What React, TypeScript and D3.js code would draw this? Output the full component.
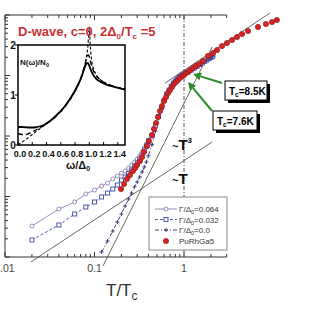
import React from 'react';
import * as d3 from 'd3';

// ---------- main panel data (T/Tc, 1/T1 normalised, log-log) ----------
const gridLow = [0.02, 0.04, 0.06, 0.08, 0.10, 0.12, 0.14, 0.16, 0.18, 0.20, 0.22, 0.24, 0.26, 0.28, 0.30, 0.32, 0.34, 0.36, 0.38, 0.40];
const gridHigh = [0.44, 0.48, 0.52, 0.56, 0.60, 0.64, 0.68, 0.72, 0.76, 0.80, 0.84, 0.88, 0.92, 0.96, 1.00];
const gridNormal = [1.1, 1.2, 1.3, 1.4, 1.5, 1.6, 1.7, 1.8, 1.9, 2.0, 2.1];

const g064Low = [0.00325, 0.00621, 0.00811, 0.0110, 0.0128, 0.0149, 0.0167, 0.0195, 0.0218, 0.0244, 0.0264, 0.0296, 0.0332, 0.0372, 0.0417, 0.0467, 0.0545, 0.0634, 0.0738, 0.0859];
const g032Low = [0.00191, 0.00338, 0.00514, 0.00670, 0.00811, 0.00982, 0.0114, 0.0133, 0.0155, 0.0187, 0.0210, 0.0240, 0.0274, 0.0313, 0.0358, 0.0417, 0.0485, 0.0587, 0.0684, 0.0826];
const g0Low = [null, null, null, null, null, 0.00121, 0.00184, 0.00269, 0.00379, 0.00514, 0.00697, 0.00909, 0.0114, 0.0144, 0.0174, 0.0210, 0.0254, 0.0308, 0.0372, 0.0470];

const g064High = [0.104, 0.150, 0.212, 0.298, 0.392, 0.492, 0.575, 0.668, 0.750, 0.812, 0.875, 0.928, 0.982, 1.02, 1.06];
const g032High = [0.100, 0.147, 0.210, 0.296, 0.390, 0.490, 0.572, 0.666, 0.748, 0.810, 0.873, 0.926, 0.980, 1.02, 1.06];
const g0High = [0.072, 0.120, 0.195, 0.288, 0.385, 0.485, 0.570, 0.664, 0.746, 0.808, 0.872, 0.925, 0.979, 1.02, 1.06];
const normalState = [1.14, 1.23, 1.33, 1.42, 1.52, 1.61, 1.71, 1.80, 1.90, 1.99, 2.08];

const rhX = [0.198, 0.214, 0.231, 0.249, 0.269, 0.284, 0.299, 0.322, 0.340, 0.357, 0.387, 0.406, 0.439, 0.462, 0.487, 0.512, 0.540, 0.568, 0.598, 0.630, 0.663, 0.698, 0.735, 0.773, 0.814, 0.857, 0.902, 0.951, 1.0, 1.053, 1.108, 1.167, 1.26, 1.362, 1.471, 1.63, 1.85, 2.11, 2.34, 2.66, 3.02, 3.44, 3.91, 4.45, 5.19, 6.71, 8.24, 9.62, 10.9];
const rhY = [0.0133, 0.0161, 0.0195, 0.0226, 0.0264, 0.0296, 0.0332, 0.0386, 0.0450, 0.0545, 0.0684, 0.0826, 0.104, 0.131, 0.164, 0.206, 0.259, 0.313, 0.379, 0.441, 0.514, 0.575, 0.646, 0.724, 0.782, 0.843, 0.910, 0.982, 1.02, 1.10, 1.14, 1.23, 1.33, 1.44, 1.55, 1.74, 2.10, 2.35, 2.64, 3.07, 3.44, 3.86, 4.33, 4.85, 5.44, 6.34, 7.10, 7.66, 8.27];

// power-law guide lines (endpoints)
const guideTlowX = [0.0195, 2.06];
const guideTlowY = [0.00083, 0.0796];
const guideT3X = [0.1245, 2.06];
const guideT3Y = [0.00071, 2.96];
const guideThighX = [0.614, 9.14];
const guideThighY = [0.751, 10.8];

// ---------- inset data: N(w)/N0 vs w/Delta0 ----------
const inW064 = [0.00, 0.05, 0.10, 0.15, 0.20, 0.25, 0.30, 0.35, 0.40, 0.45, 0.50, 0.55, 0.60, 0.65, 0.70, 0.75, 0.80, 0.85, 0.90, 0.93, 0.96, 0.98, 1.00, 1.03, 1.06, 1.10, 1.15, 1.20, 1.30, 1.40, 1.50];
const inN064 = [0.36, 0.36, 0.355, 0.35, 0.35, 0.355, 0.37, 0.39, 0.43, 0.48, 0.54, 0.61, 0.68, 0.76, 0.86, 0.97, 1.09, 1.23, 1.40, 1.53, 1.63, 1.64, 1.58, 1.47, 1.39, 1.32, 1.27, 1.23, 1.18, 1.14, 1.11];
const inW032 = [0.00, 0.05, 0.10, 0.15, 0.20, 0.25, 0.30, 0.35, 0.40, 0.50, 0.60, 0.70, 0.80, 0.85, 0.90, 0.94, 0.97, 0.99, 1.01, 1.04, 1.08, 1.15, 1.25, 1.35, 1.50];
const inN032 = [0.23, 0.21, 0.21, 0.23, 0.26, 0.30, 0.34, 0.38, 0.43, 0.53, 0.67, 0.85, 1.08, 1.23, 1.42, 1.62, 1.78, 1.80, 1.70, 1.55, 1.42, 1.31, 1.22, 1.17, 1.12];
const inW0 = [0.00, 0.10, 0.20, 0.30, 0.40, 0.50, 0.60, 0.70, 0.80, 0.90, 0.95, 0.98, 1.00, 1.01, 1.03, 1.06, 1.10, 1.20, 1.30, 1.40, 1.50];
const inN0 = [0.00, 0.10, 0.21, 0.32, 0.43, 0.55, 0.69, 0.86, 1.08, 1.40, 1.68, 1.98, 2.36, 2.05, 1.72, 1.52, 1.40, 1.26, 1.19, 1.15, 1.12];
const insetXTicks = [0, 0.2, 0.4, 0.6, 0.8, 1.0, 1.2, 1.4];
const insetYTicks = [0, 1, 2];

const FONT = 'Arial, "Liberation Sans", Helvetica, sans-serif';

export default function App() {
  const x = d3.scaleLog().domain([0.01, 12]).range([5, 5 + 89.5 * Math.log10(1200)]);
  const y = d3.scaleLog().domain([0.001, 10]).range([257, 15]);
  const xTicks = d3.scaleLog().domain([0.01, 3]).ticks();
  const yTicks = y.ticks();
  const isMajor = (v: number) => Math.abs(Math.log10(v) - Math.round(Math.log10(v))) < 1e-6;
  const xL = x(0.01), xR = x(3), yB = y(0.001), yT = y(10);

  const line = d3.line<[number, number | null]>()
    .defined(d => d[1] != null)
    .x(d => x(d[0]))
    .y(d => y(d[1] as number));

  const build = (low: (number | null)[], high: number[]) =>
    ([] as [number, number | null][])
      .concat(gridLow.map((v, i) => [v, low[i]] as [number, number | null]))
      .concat(gridHigh.map((v, i) => [v, high[i]] as [number, number | null]))
      .concat(gridNormal.map((v, i) => [v, normalState[i]] as [number, number | null]));

  const s064 = build(g064Low, g064High);
  const s032 = build(g032Low, g032High);
  const s0 = build(g0Low, g0High);
  const rh = rhX.map((v, i) => [v, rhY[i]] as [number, number]);

  const guide = (gx: number[], gy: number[]) => line(gx.map((v, i) => [v, gy[i]] as [number, number]));

  const ix = d3.scaleLinear().domain([0, 1.5]).range([18, 125]);
  const iy = d3.scaleLinear().domain([0, 2]).range([145, 45]);
  const iline = d3.line<[number, number]>().x(d => ix(d[0])).y(d => iy(d[1])).curve(d3.curveMonotoneX);
  const ipath = (w: number[], n: number[]) => iline(w.map((v, i) => [v, n[i]] as [number, number]));

  const c064 = '#8c80b4';
  const c032 = '#3b48a6';
  const c0 = '#2c3478';

  const arrow = (tail: [number, number], tip: [number, number]) => {
    const [x1, y1] = [x(tail[0]), y(tail[1])];
    const [x2, y2] = [x(tip[0]), y(tip[1])];
    const ang = Math.atan2(y2 - y1, x2 - x1);
    const L = 8, Wd = 4;
    const bx = x2 - L * Math.cos(ang), by = y2 - L * Math.sin(ang);
    const p1 = [bx + Wd * Math.sin(ang), by - Wd * Math.cos(ang)];
    const p2 = [bx - Wd * Math.sin(ang), by + Wd * Math.cos(ang)];
    return (
      <g>
        <line x1={x1} y1={y1} x2={bx} y2={by} stroke="#2e8b2e" strokeWidth={2} />
        <polygon points={`${x2},${y2} ${p1[0]},${p1[1]} ${p2[0]},${p2[1]}`} fill="#2e8b2e" />
      </g>
    );
  };

  const callout = (bx: number, by: number, w: number, h: number, label: string) => (
    <g>
      <rect x={bx + 3} y={by + 3} width={w} height={h} fill="#000" />
      <rect x={bx} y={by} width={w} height={h} fill="#fff" stroke="#000" strokeWidth={1} />
      <text x={bx + 4} y={by + h - 5} fontFamily={FONT} fontWeight="bold" fontSize={10} fill="#000">
        <tspan>T</tspan><tspan fontSize={6.5} dy={2}>c</tspan><tspan dy={-2}>{label}</tspan>
      </text>
    </g>
  );

  const legendRows = [
    { label: '0.064', color: c064, dash: '', marker: 'circle' },
    { label: '0.032', color: c032, dash: '3,2', marker: 'square' },
    { label: '0.0', color: c0, dash: '4,2,1,2', marker: 'plus' },
  ];

  const drawMarker = (kind: string, cx: number, cy: number, color: string, key?: any) => {
    if (kind === 'circle') return <circle key={key} cx={cx} cy={cy} r={2} fill="#fff" stroke={color} strokeWidth={0.9} />;
    if (kind === 'square') return <rect key={key} x={cx - 2} y={cy - 2} width={4} height={4} fill="#fff" stroke={color} strokeWidth={0.9} />;
    return <path key={key} d={`M${cx - 2},${cy}H${cx + 2}M${cx},${cy - 2}V${cy + 2}`} stroke={color} strokeWidth={0.9} />;
  };

  return (
    <svg width={320} height={320} style={{ position: 'absolute', left: 0, top: 0, background: '#fff' }}>
      <rect x={0} y={0} width={320} height={320} fill="#fff" />

      {/* axes */}
      <g stroke="#333" strokeWidth={1}>
        <line x1={xL} y1={yB} x2={xR} y2={yB} />
        <line x1={xL} y1={yT} x2={xR} y2={yT} />
        <line x1={xL} y1={yT} x2={xL} y2={yB} />
        {xTicks.map((t, i) => (
          <g key={'xt' + i}>
            <line x1={x(t)} x2={x(t)} y1={yB} y2={yB - (isMajor(t) ? 5 : 3)} />
            <line x1={x(t)} x2={x(t)} y1={yT} y2={yT + (isMajor(t) ? 5 : 3)} />
          </g>
        ))}
        {yTicks.map((t, i) => (
          <line key={'yt' + i} x1={xL} x2={xL + (isMajor(t) ? 5 : 3)} y1={y(t)} y2={y(t)} />
        ))}
      </g>
      {[0.01, 0.1, 1].map((t, i) => (
        <text key={'xl' + i} x={t === 0.01 ? 0 : x(t)} y={272} textAnchor={t === 0.01 ? 'start' : 'middle'} fontFamily={FONT} fontSize={10.5} fill="#444">
          {t === 0.01 ? '.01' : t === 0.1 ? '0.1' : '1'}
        </text>
      ))}
      <text x={106} y={296} fontFamily={FONT} fontSize={17} fill="#333">
        <tspan>T/T</tspan><tspan fontSize={12} dy={4}>c</tspan>
      </text>

      {/* Tc dashed line */}
      <line x1={x(1)} x2={x(1)} y1={yT} y2={yB} stroke="#555" strokeWidth={1} strokeDasharray="4,2,1,2" />

      {/* guide lines */}
      <g fill="none" stroke="#444" strokeWidth={0.8}>
        <path d={guide(guideTlowX, guideTlowY) || ''} />
        <path d={guide(guideT3X, guideT3Y) || ''} />
        <path d={guide(guideThighX, guideThighY) || ''} />
      </g>
      <text x={172} y={150} fontFamily={FONT} fontWeight="bold" fontSize={15} fill="#111">
        <tspan fontSize={11}>~</tspan><tspan>T</tspan><tspan fontSize={8} dy={-7}>3</tspan>
      </text>
      <text x={172} y={184} fontFamily={FONT} fontWeight="bold" fontSize={15} fill="#111">
        <tspan fontSize={11}>~</tspan><tspan>T</tspan>
      </text>

      {/* theory curves */}
      <path d={line(s064) || ''} fill="none" stroke={c064} strokeWidth={0.9} />
      <path d={line(s032) || ''} fill="none" stroke={c032} strokeWidth={0.9} strokeDasharray="3,2" />
      <path d={line(s0) || ''} fill="none" stroke={c0} strokeWidth={0.9} strokeDasharray="4,2,1,2" />
      {s064.map((d, i) => drawMarker('circle', x(d[0]), y(d[1] as number), c064, 'c' + i))}
      {s032.map((d, i) => drawMarker('square', x(d[0]), y(d[1] as number), c032, 's' + i))}
      {s0.filter(d => d[1] != null).map((d, i) => drawMarker('plus', x(d[0]), y(d[1] as number), c0, 'p' + i))}

      {/* PuRhGa5 data */}
      {rh.map((d, i) => (
        <circle key={'r' + i} cx={x(d[0])} cy={y(d[1])} r={2.6} fill="#dd2222" stroke="#8a1d1d" strokeWidth={0.7} />
      ))}

      {/* Tc callouts */}
      {arrow([2.66, 0.751], [1.26, 1.06])}
      {arrow([2.06, 0.259], [1.108, 0.782])}
      {callout(225, 81, 42, 19, '=8.5K')}
      {callout(213, 111, 44, 19, '=7.6K')}

      {/* legend */}
      <rect x={149} y={197} width={78} height={53} fill="#fff" stroke="#888" strokeWidth={1} />
      {legendRows.map((r, i) => {
        const ly = 209 + i * 10.5;
        return (
          <g key={'lg' + i}>
            <line x1={155} x2={177} y1={ly} y2={ly} stroke={r.color} strokeWidth={0.9} strokeDasharray={r.dash} />
            {drawMarker(r.marker, 166, ly, r.color)}
            <text x={179} y={ly + 3} fontFamily={FONT} fontSize={8} fill="#333">
              <tspan>Γ/Δ</tspan><tspan fontSize={5.5} dy={2}>0</tspan><tspan dy={-2}>{'=' + r.label}</tspan>
            </text>
          </g>
        );
      })}
      <circle cx={166} cy={241} r={2.6} fill="#dd2222" stroke="#8a1d1d" strokeWidth={0.7} />
      <text x={179} y={244} fontFamily={FONT} fontSize={8} fill="#333">PuRhGa5</text>

      {/* inset */}
      <rect x={ix(0)} y={iy(2)} width={ix(1.5) - ix(0)} height={iy(0) - iy(2)} fill="#fff" stroke="#000" strokeWidth={1.5} />
      <g stroke="#000" strokeWidth={1}>
        {insetXTicks.map((t, i) => (
          <line key={'ixt' + i} x1={ix(t)} x2={ix(t)} y1={iy(0)} y2={iy(0) - 3} />
        ))}
        {insetYTicks.map((t, i) => (
          <line key={'iyt' + i} x1={ix(0) - 3} x2={ix(0)} y1={iy(t)} y2={iy(t)} />
        ))}
      </g>
      {insetXTicks.map((t, i) => (
        <text key={'ixl' + i} x={ix(t) + 2} y={157} textAnchor="middle" fontFamily={FONT} fontWeight="bold" fontSize={9} fill="#111">
          {t.toFixed(1)}
        </text>
      ))}
      {insetYTicks.map((t, i) => (
        <text key={'iyl' + i} x={13} y={iy(t) + 3.5} textAnchor="middle" fontFamily={FONT} fontWeight="bold" fontSize={10} fill="#111">
          {String(t)}
        </text>
      ))}
      <text x={66} y={169} fontFamily={FONT} fontWeight="bold" fontSize={11} fill="#111">
        <tspan>ω/Δ</tspan><tspan fontSize={7} dy={2}>0</tspan>
      </text>
      <text x={20} y={65} fontFamily={FONT} fontWeight="bold" fontSize={8} fill="#111">
        <tspan>N(ω)/N</tspan><tspan fontSize={5.5} dy={2}>0</tspan>
      </text>
      <path d={ipath(inW064, inN064) || ''} fill="none" stroke="#000" strokeWidth={1.8} />
      <path d={ipath(inW032, inN032) || ''} fill="none" stroke="#000" strokeWidth={1.4} strokeDasharray="5,3" />
      <path d={ipath(inW0, inN0) || ''} fill="none" stroke="#000" strokeWidth={1.1} strokeDasharray="3,2" />

      {/* title */}
      <text x={18} y={36} fontFamily={FONT} fontWeight="bold" fontSize={13} fill="#c83232">
        <tspan>D-wave, c=0, 2Δ</tspan><tspan fontSize={8} dy={3}>0</tspan><tspan dy={-3}>/T</tspan><tspan fontSize={8} dy={3}>c</tspan><tspan dy={-3}> =5</tspan>
      </text>
    </svg>
  );
}
